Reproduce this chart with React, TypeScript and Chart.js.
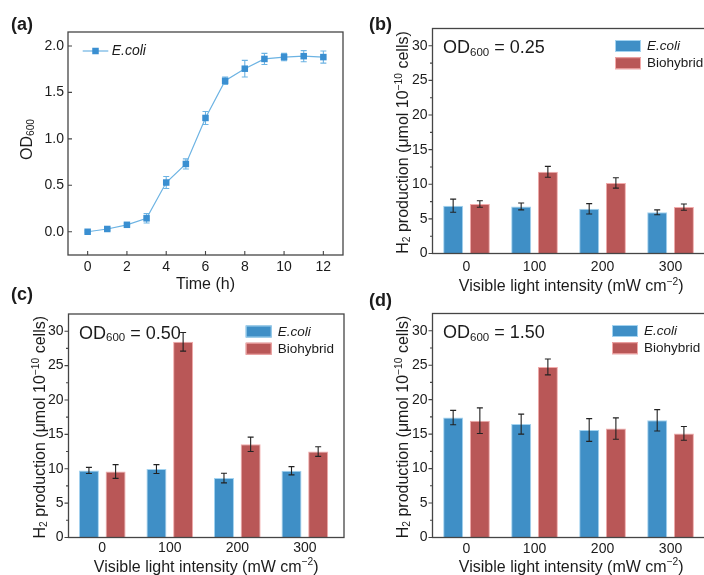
import React, { useEffect, useRef } from 'react';
import { Chart, registerables } from 'chart.js';

Chart.register(...registerables);

const FONT = "'Liberation Sans', Arial, Helvetica, sans-serif";
const CW = 760;
const CH = 575;

// ---------- Panel (a) data ----------
const timeHours = [0, 1, 2, 3, 4, 5, 6, 7, 8, 9, 10, 11, 12];
const od600Values = [0.0, 0.03, 0.075, 0.145, 0.53, 0.73, 1.225, 1.625, 1.755, 1.86, 1.88, 1.89, 1.88];
const od600Errors = [0.01, 0.012, 0.015, 0.05, 0.065, 0.055, 0.07, 0.04, 0.09, 0.06, 0.04, 0.06, 0.065];
const timeTicks = [0, 2, 4, 6, 8, 10, 12];
const odTicks = [0, 0.5, 1.0, 1.5, 2.0];

// ---------- Bar panels data ----------
const lightIntensities = [0, 100, 200, 300];
const h2Ticks = [0, 5, 10, 15, 20, 25, 30];
const h2MinorTicks = [2.5, 7.5, 12.5, 17.5, 22.5, 27.5];

const ecoliB = [6.9, 6.8, 6.45, 5.95];
const ecoliBErr = [0.95, 0.5, 0.75, 0.35];
const bioB = [7.15, 11.8, 10.2, 6.7];
const bioBErr = [0.48, 0.78, 0.75, 0.45];

const ecoliC = [9.75, 9.95, 8.65, 9.7];
const ecoliCErr = [0.45, 0.65, 0.7, 0.6];
const bioC = [9.6, 28.45, 13.55, 12.5];
const bioCErr = [1.0, 1.35, 1.05, 0.7];

const ecoliD = [17.4, 16.45, 15.6, 17.0];
const ecoliDErr = [1.05, 1.45, 1.65, 1.55];
const bioD = [16.95, 24.75, 15.8, 15.1];
const bioDErr = [1.85, 1.15, 1.55, 1.0];

// ---------- styles ----------
const AXIS = '#454545';
const TEXT = '#1b1b1b';
const BLUE = '#3f8fc6';
const BLUE_EDGE = '#a3d3f0';
const RED = '#b95757';
const RED_EDGE = '#f2abab';
const LINE_BLUE = '#6cb3e3';
const MARK_BLUE = '#3a8fd1';

type Seg = { t: string; s?: 'sub' | 'sup'; i?: boolean };
type Box = { left: number; top: number; right: number; bottom: number };

function fontStr(size: number, italic?: boolean, bold?: boolean) {
  return `${italic ? 'italic ' : ''}${bold ? 'bold ' : ''}${size}px ${FONT}`;
}

function drawRich(ctx: CanvasRenderingContext2D, segs: Seg[], x: number, y: number, fs: number, align: 'left' | 'center', rotate = false) {
  ctx.save();
  ctx.translate(x, y);
  if (rotate) ctx.rotate(-Math.PI / 2);
  let w = 0;
  for (const s of segs) {
    ctx.font = fontStr(s.s ? fs * 0.64 : fs, s.i);
    w += ctx.measureText(s.t).width;
  }
  let cx = align === 'center' ? -w / 2 : 0;
  ctx.textBaseline = 'alphabetic';
  ctx.textAlign = 'left';
  ctx.fillStyle = TEXT;
  for (const s of segs) {
    const size = s.s ? fs * 0.64 : fs;
    ctx.font = fontStr(size, s.i);
    const dy = s.s === 'sub' ? fs * 0.15 : s.s === 'sup' ? -fs * 0.4 : 0;
    ctx.fillText(s.t, cx, dy);
    cx += ctx.measureText(s.t).width;
  }
  ctx.restore();
}

function drawBox(ctx: CanvasRenderingContext2D, b: Box) {
  ctx.save();
  ctx.strokeStyle = AXIS;
  ctx.lineWidth = 1.3;
  ctx.strokeRect(b.left, b.top, b.right - b.left, b.bottom - b.top);
  ctx.restore();
}

function drawLetter(ctx: CanvasRenderingContext2D, text: string, x: number, y: number) {
  ctx.save();
  ctx.font = fontStr(18, false, true);
  ctx.fillStyle = TEXT;
  ctx.textBaseline = 'alphabetic';
  ctx.textAlign = 'left';
  ctx.fillText(text, x, y);
  ctx.restore();
}

const xTitleBars: Seg[] = [{ t: 'Visible light intensity (mW cm' }, { t: '\u22122', s: 'sup' }, { t: ')' }];
const yTitleBars: Seg[] = [
  { t: 'H' }, { t: '2', s: 'sub' }, { t: ' production (\u03bcmol 10' }, { t: '\u221210', s: 'sup' }, { t: ' cells)' },
];

type BarPanel = {
  letter: string;
  letterPos: [number, number];
  odLabel: string;
  ecoli: number[];
  ecoliErr: number[];
  bio: number[];
  bioErr: number[];
  box: Box;
  catPct: number;
  xPad: number;
  xTitleY: number;
  yTitleX: number;
  legendX: number;
};

const panelB: BarPanel = {
  letter: '(b)', letterPos: [369, 30], odLabel: '0.25',
  ecoli: ecoliB, ecoliErr: ecoliBErr, bio: bioB, bioErr: bioBErr,
  box: { left: 432.5, top: 28.5, right: 710, bottom: 253.5 },
  catPct: 0.785, xPad: 5.2, xTitleY: 291, yTitleX: 408, legendX: 615,
};
const panelC: BarPanel = {
  letter: '(c)', letterPos: [11, 300], odLabel: '0.50',
  ecoli: ecoliC, ecoliErr: ecoliCErr, bio: bioC, bioErr: bioCErr,
  box: { left: 68.5, top: 314, right: 344, bottom: 537.5 },
  catPct: 0.79, xPad: 2.6, xTitleY: 571.5, yTitleX: 45, legendX: 245.7,
};
const panelD: BarPanel = {
  letter: '(d)', letterPos: [369, 306], odLabel: '1.50',
  ecoli: ecoliD, ecoliErr: ecoliDErr, bio: bioD, bioErr: bioDErr,
  box: { left: 432.5, top: 313.5, right: 710, bottom: 537.5 },
  catPct: 0.785, xPad: 2.8, xTitleY: 571.5, yTitleX: 408, legendX: 612,
};

function makeBarChart(canvas: HTMLCanvasElement, p: BarPanel) {
  const b = p.box;
  const deco = {
    id: 'deco' + p.letter,
    afterDatasetsDraw(chart: any) {
      const ctx: CanvasRenderingContext2D = chart.ctx;
      const ys = chart.scales.y;
      chart.data.datasets.forEach((ds: any, di: number) => {
        const meta = chart.getDatasetMeta(di);
        meta.data.forEach((el: any, i: number) => {
          const v = ds.data[i].y;
          const e = ds.errors[i];
          const x = el.x;
          const y1 = ys.getPixelForValue(v + e);
          const y2 = ys.getPixelForValue(v - e);
          ctx.save();
          ctx.strokeStyle = '#222';
          ctx.lineWidth = 1.1;
          ctx.beginPath();
          ctx.moveTo(x, y1); ctx.lineTo(x, y2);
          ctx.moveTo(x - 3, y1); ctx.lineTo(x + 3, y1);
          ctx.moveTo(x - 3, y2); ctx.lineTo(x + 3, y2);
          ctx.stroke();
          ctx.restore();
        });
      });
    },
    afterDraw(chart: any) {
      const ctx: CanvasRenderingContext2D = chart.ctx;
      const ys = chart.scales.y;
      const xs = chart.scales.x;
      drawBox(ctx, b);
      ctx.save();
      ctx.strokeStyle = AXIS;
      ctx.lineWidth = 1.1;
      ctx.beginPath();
      h2Ticks.forEach((v) => { const y = ys.getPixelForValue(v); ctx.moveTo(b.left, y); ctx.lineTo(b.left - 4, y); });
      h2MinorTicks.forEach((v) => { const y = ys.getPixelForValue(v); ctx.moveTo(b.left, y); ctx.lineTo(b.left - 2.5, y); });
      ctx.stroke();
      ctx.restore();
      // titles
      drawRich(ctx, xTitleBars, (xs.left + xs.right) / 2, p.xTitleY, 16, 'center');
      drawRich(ctx, yTitleBars, p.yTitleX, (b.top + b.bottom) / 2 + 1.5, 16, 'center', true);
      // OD label
      drawRich(ctx, [{ t: 'OD' }, { t: '600', s: 'sub' }, { t: ' = ' + p.odLabel }], b.left + 10.5, b.top + 24.5, 18, 'left');
      // legend
      const items = [
        { label: 'E.coli', fill: BLUE, edge: BLUE_EDGE, italic: true, dy: 11.5 },
        { label: 'Biohybrid', fill: RED, edge: RED_EDGE, italic: false, dy: 28.7 },
      ];
      items.forEach((it) => {
        const y0 = b.top + it.dy;
        ctx.save();
        ctx.fillStyle = it.fill;
        ctx.fillRect(p.legendX, y0, 26, 12);
        ctx.strokeStyle = it.edge;
        ctx.lineWidth = 1;
        ctx.strokeRect(p.legendX + 0.5, y0 + 0.5, 25, 11);
        ctx.font = fontStr(13.5, it.italic);
        ctx.fillStyle = TEXT;
        ctx.textBaseline = 'middle';
        ctx.textAlign = 'left';
        ctx.fillText(it.label, p.legendX + 32, y0 + 6.5);
        ctx.restore();
      });
      drawLetter(ctx, p.letter, p.letterPos[0], p.letterPos[1]);
    },
  };
  return new Chart(canvas, {
    type: 'bar',
    data: {
      datasets: [
        {
          label: 'E.coli',
          data: lightIntensities.map((x, i) => ({ x, y: p.ecoli[i] })),
          errors: p.ecoliErr,
          backgroundColor: BLUE,
          borderColor: BLUE_EDGE,
          borderWidth: 1,
          categoryPercentage: p.catPct,
          barPercentage: 0.75,
        } as any,
        {
          label: 'Biohybrid',
          data: lightIntensities.map((x, i) => ({ x, y: p.bio[i] })),
          errors: p.bioErr,
          backgroundColor: RED,
          borderColor: RED_EDGE,
          borderWidth: 1,
          categoryPercentage: p.catPct,
          barPercentage: 0.75,
        } as any,
      ],
    },
    options: {
      responsive: false,
      animation: false,
      devicePixelRatio: 1,
      events: [],
      layout: { padding: { left: 0, top: b.top, right: CW - b.right, bottom: 0 } },
      plugins: { legend: { display: false }, tooltip: { enabled: false } },
      scales: {
        x: {
          type: 'linear',
          min: -50,
          max: 358,
          offset: false,
          afterBuildTicks: (s: any) => { s.ticks = lightIntensities.map((v) => ({ value: v })); },
          afterFit: (s: any) => { s.height = CH - b.bottom; },
          grid: { display: false, drawTicks: false },
          border: { display: false },
          ticks: { padding: p.xPad, color: TEXT, font: { size: 14, family: FONT }, callback: (v: any) => String(v), maxRotation: 0, autoSkip: false },
        },
        y: {
          type: 'linear',
          min: 0,
          max: 32.5,
          afterBuildTicks: (s: any) => { s.ticks = h2Ticks.map((v) => ({ value: v })); },
          afterFit: (s: any) => { s.width = b.left; },
          grid: { display: false, drawTicks: false },
          border: { display: false },
          ticks: { padding: 5, color: TEXT, font: { size: 14, family: FONT }, callback: (v: any) => String(v), autoSkip: false },
        },
      },
    } as any,
    plugins: [deco],
  });
}

const boxA: Box = { left: 68, top: 32, right: 343, bottom: 255 };

function makeLineChart(canvas: HTMLCanvasElement) {
  const b = boxA;
  const deco = {
    id: 'decoA',
    beforeDatasetsDraw(chart: any) {
      const ctx: CanvasRenderingContext2D = chart.ctx;
      const xs = chart.scales.x;
      const ys = chart.scales.y;
      ctx.save();
      ctx.strokeStyle = LINE_BLUE;
      ctx.lineWidth = 1.1;
      ctx.beginPath();
      timeHours.forEach((t, i) => {
        const x = xs.getPixelForValue(t);
        const y1 = ys.getPixelForValue(od600Values[i] + od600Errors[i]);
        const y2 = ys.getPixelForValue(od600Values[i] - od600Errors[i]);
        ctx.moveTo(x, y1); ctx.lineTo(x, y2);
        ctx.moveTo(x - 3, y1); ctx.lineTo(x + 3, y1);
        ctx.moveTo(x - 3, y2); ctx.lineTo(x + 3, y2);
      });
      ctx.stroke();
      ctx.restore();
    },
    afterDraw(chart: any) {
      const ctx: CanvasRenderingContext2D = chart.ctx;
      const xs = chart.scales.x;
      const ys = chart.scales.y;
      drawBox(ctx, b);
      ctx.save();
      ctx.strokeStyle = AXIS;
      ctx.lineWidth = 1.1;
      ctx.beginPath();
      timeTicks.forEach((v) => { const x = xs.getPixelForValue(v); ctx.moveTo(x, b.bottom); ctx.lineTo(x, b.bottom - 4); });
      odTicks.forEach((v) => { const y = ys.getPixelForValue(v); ctx.moveTo(b.left, y); ctx.lineTo(b.left + 4, y); });
      ctx.stroke();
      ctx.restore();
      drawRich(ctx, [{ t: 'Time (h)' }], (b.left + b.right) / 2, 288.5, 16, 'center');
      drawRich(ctx, [{ t: 'OD' }, { t: '600', s: 'sub' }], 31.5, 139.5, 16, 'center', true);
      // legend
      ctx.save();
      ctx.strokeStyle = LINE_BLUE;
      ctx.lineWidth = 1.2;
      ctx.beginPath();
      ctx.moveTo(82.7, 51); ctx.lineTo(108.3, 51);
      ctx.stroke();
      ctx.fillStyle = MARK_BLUE;
      ctx.fillRect(95.5 - 3.25, 51 - 3.25, 6.5, 6.5);
      ctx.font = fontStr(14, true);
      ctx.fillStyle = TEXT;
      ctx.textBaseline = 'middle';
      ctx.textAlign = 'left';
      ctx.fillText('E.coli', 111.7, 51.5);
      ctx.restore();
      drawLetter(ctx, '(a)', 11, 30);
    },
  };
  return new Chart(canvas, {
    type: 'line',
    data: {
      datasets: [
        {
          label: 'E.coli',
          data: timeHours.map((x, i) => ({ x, y: od600Values[i] })),
          borderColor: LINE_BLUE,
          borderWidth: 1.2,
          pointStyle: 'rect',
          pointRadius: 4.6,
          pointBackgroundColor: MARK_BLUE,
          pointBorderColor: MARK_BLUE,
          pointBorderWidth: 0,
          tension: 0,
          fill: false,
        },
      ],
    },
    options: {
      responsive: false,
      animation: false,
      devicePixelRatio: 1,
      events: [],
      layout: { padding: { left: 0, top: b.top, right: CW - b.right, bottom: 0 } },
      plugins: { legend: { display: false }, tooltip: { enabled: false } },
      scales: {
        x: {
          type: 'linear',
          min: -1,
          max: 13,
          afterBuildTicks: (s: any) => { s.ticks = timeTicks.map((v) => ({ value: v })); },
          afterFit: (s: any) => { s.height = CH - b.bottom; },
          grid: { display: false, drawTicks: false },
          border: { display: false },
          ticks: { padding: 3.8, color: TEXT, font: { size: 14, family: FONT }, callback: (v: any) => String(v), maxRotation: 0, autoSkip: false },
        },
        y: {
          type: 'linear',
          min: -0.25,
          max: 2.15,
          afterBuildTicks: (s: any) => { s.ticks = odTicks.map((v) => ({ value: v })); },
          afterFit: (s: any) => { s.width = b.left; },
          grid: { display: false, drawTicks: false },
          border: { display: false },
          ticks: { padding: 4, color: TEXT, font: { size: 14, family: FONT }, callback: (v: any) => Number(v).toFixed(1), autoSkip: false },
        },
      },
    } as any,
    plugins: [deco],
  });
}

function ChartCanvas({ make }: { make: (c: HTMLCanvasElement) => Chart }) {
  const ref = useRef<HTMLCanvasElement>(null);
  useEffect(() => {
    const ch = make(ref.current as HTMLCanvasElement);
    return () => ch.destroy();
  }, []);
  return (
    <canvas
      ref={ref}
      width={CW}
      height={CH}
      style={{ position: 'absolute', left: 0, top: 0, width: CW, height: CH }}
    />
  );
}

export default function App() {
  return (
    <div
      style={{
        position: 'fixed',
        left: 0,
        top: 0,
        width: 704,
        height: 575,
        overflow: 'hidden',
        background: '#ffffff',
      }}
    >
      <ChartCanvas make={(c) => makeLineChart(c)} />
      <ChartCanvas make={(c) => makeBarChart(c, panelB)} />
      <ChartCanvas make={(c) => makeBarChart(c, panelC)} />
      <ChartCanvas make={(c) => makeBarChart(c, panelD)} />
    </div>
  );
}
